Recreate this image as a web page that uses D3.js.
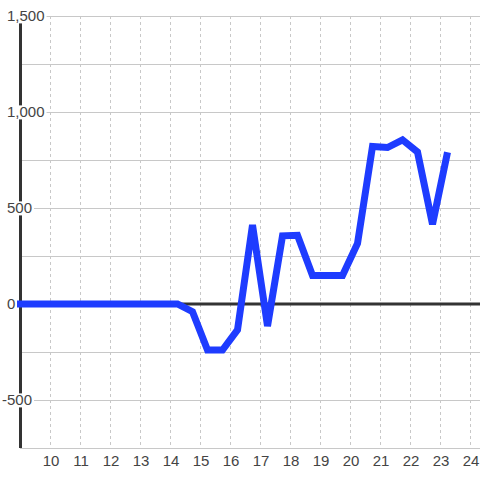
<!DOCTYPE html>
<html>
<head>
<meta charset="utf-8">
<script src="https://cdn.jsdelivr.net/npm/d3@7"></script>
<style>
  body { margin: 0; background: #fff; }
  text { font-family: "Liberation Sans", Arial, sans-serif; }
</style>
</head>
<body>
<div id="my_dataviz"></div>
<script>

// half-hour samples (x = hour of day)
var hours = [8.75, 9.25, 9.75, 10.25, 10.75, 11.25, 11.75, 12.25, 12.75, 13.25, 13.75,
             14.25, 14.75, 15.25, 15.75, 16.25, 16.75, 17.25, 17.75, 18.25, 18.75,
             19.25, 19.75, 20.25, 20.75, 21.25, 21.75, 22.25, 22.75, 23.25];
var values = [0, 0, 0, 0, 0, 0, 0, 0, 0, 0, 0,
              0, -40, -240, -240, -135, 412, -115, 355, 358, 148,
              148, 148, 315, 820, 815, 855, 792, 415, 790];

var xTicks = [10, 11, 12, 13, 14, 15, 16, 17, 18, 19, 20, 21, 22, 23, 24];
var yGrid = [-500, -250, 250, 500, 750, 1000, 1250, 1500];
var yTicks = [-500, 0, 500, 1000, 1500];

var data = [];
for (var i = 0; i < hours.length; i++) {
    data.push({"x": hours[i], "y": values[i]});
}

var margin = {top: 16, bottom: 448, left: 20},
    width = 480,
    height = 480;

var svg = d3.select("#my_dataviz")
    .append("svg")
        .attr("width", width)
        .attr("height", height);

var x = d3.scaleLinear()
    .domain([9, 24.333])
    .range([margin.left, width]);

var y = d3.scaleLinear()
    .domain([-750, 1500])
    .range([margin.bottom, margin.top]);

// horizontal grid
svg.append("g")
    .selectAll("line")
    .data(yGrid)
    .enter()
    .append("line")
        .attr("x1", margin.left)
        .attr("x2", width)
        .attr("y1", function(d) { return Math.round(y(d)) + 0.5; })
        .attr("y2", function(d) { return Math.round(y(d)) + 0.5; })
        .attr("stroke", "#c8c8c8")
        .attr("stroke-width", 1);

// vertical dashed grid
svg.append("g")
    .selectAll("line")
    .data(xTicks)
    .enter()
    .append("line")
        .attr("x1", function(d) { return Math.round(x(d)) + 0.5; })
        .attr("x2", function(d) { return Math.round(x(d)) + 0.5; })
        .attr("y1", margin.top)
        .attr("y2", margin.bottom)
        .attr("stroke", "#c8c8c8")
        .attr("stroke-width", 1)
        .attr("stroke-dasharray", "3,3");

// bottom axis line
svg.append("line")
    .attr("x1", margin.left)
    .attr("x2", width)
    .attr("y1", margin.bottom + 0.5)
    .attr("y2", margin.bottom + 0.5)
    .attr("stroke", "#c8c8c8");

// zero line
svg.append("line")
    .attr("x1", margin.left)
    .attr("x2", width)
    .attr("y1", y(0))
    .attr("y2", y(0))
    .attr("stroke", "#333")
    .attr("stroke-width", 3);

// y axis line
svg.append("line")
    .attr("x1", margin.left + 0.5)
    .attr("x2", margin.left + 0.5)
    .attr("y1", margin.top)
    .attr("y2", margin.bottom)
    .attr("stroke", "#333")
    .attr("stroke-width", 3);

// y labels with white background
var fmt = d3.format(",");
var yLab = svg.append("g")
    .selectAll("g")
    .data(yTicks)
    .enter()
    .append("g");

yLab.append("text")
    .attr("x", 7)
    .attr("y", function(d) { return y(d); })
    .attr("dy", "0.36em")
    .style("font-size", "15px")
    .attr("fill", "#444")
    .text(function(d) { return fmt(d).replace("−", "-"); })
    .each(function(d) {
        if (d < 0) {
            var minusW = this.getSubStringLength(0, 1);
            d3.select(this).attr("x", 7 - minusW);
        }
    });

yLab.insert("rect", "text")
    .each(function() {
        var bb = this.parentNode.querySelector("text").getBBox();
        d3.select(this)
            .attr("x", bb.x - 1)
            .attr("y", bb.y + 2)
            .attr("width", bb.width + 3)
            .attr("height", bb.height - 3)
            .attr("fill", "#fff");
    });

// x labels
svg.append("g")
    .selectAll("text")
    .data(xTicks)
    .enter()
    .append("text")
        .attr("x", function(d) { return x(d) + 1; })
        .attr("y", 466)
        .attr("text-anchor", "middle")
        .style("font-size", "15px")
        .attr("fill", "#444")
        .text(function(d) { return d; });

// the line
svg.append("clipPath")
    .attr("id", "clip")
    .append("rect")
        .attr("x", 17)
        .attr("y", 0)
        .attr("width", width - 17)
        .attr("height", height);

svg.append("path")
    .datum(data)
    .attr("clip-path", "url(#clip)")
    .attr("fill", "none")
    .attr("stroke", "#1e3cff")
    .attr("stroke-width", 7)
    .attr("d", d3.line()
        .x(function(d) { return x(d.x); })
        .y(function(d) { return y(d.y); })
    );

</script>
</body>
</html>
